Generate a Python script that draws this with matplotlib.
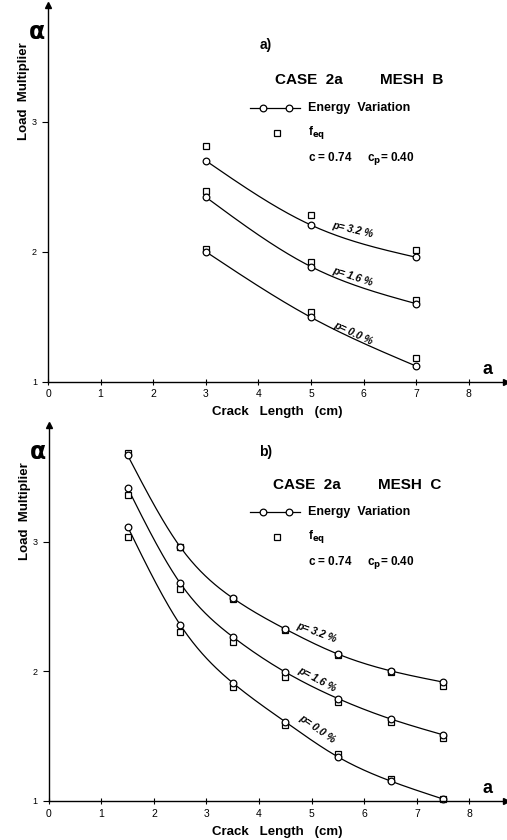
import matplotlib
matplotlib.use('Agg')
import matplotlib.pyplot as plt
import numpy as np

plt.rcParams['font.family'] = ['Liberation Sans', 'DejaVu Sans']

# ---- panel a) : MESH B ----
xa = [3, 5, 7]
a_ev_32 = [2.70, 2.205, 1.957]
a_eq_32 = [2.81, 2.28, 2.01]
a_ev_16 = [2.42, 1.885, 1.60]
a_eq_16 = [2.47, 1.92, 1.63]
a_ev_00 = [2.00, 1.495, 1.12]
a_eq_00 = [2.02, 1.54, 1.18]

# ---- panel b) : MESH C ----
xb = [1.5, 2.5, 3.5, 4.5, 5.5, 6.5, 7.5]
b_ev_32 = [3.667, 2.96, 2.565, 2.326, 2.133, 2.004, 1.917]
b_eq_32 = [3.685, 2.96, 2.56, 2.32, 2.125, 1.995, 1.89]
b_ev_16 = [3.415, 2.68, 2.266, 1.994, 1.79, 1.633, 1.51]
b_eq_16 = [3.36, 2.635, 2.23, 1.955, 1.767, 1.608, 1.484]
b_ev_00 = [3.116, 2.359, 1.911, 1.61, 1.34, 1.154, 1.015]
b_eq_00 = [3.036, 2.305, 1.88, 1.587, 1.365, 1.167, 1.015]

x_ticks = [0, 1, 2, 3, 4, 5, 6, 7, 8]
y_ticks = [1, 2, 3]
p_labels = ['p= 3.2 %', 'p= 1.6 %', 'p= 0.0 %']


def spline(x, y, n=200):
    # natural cubic spline through the points, only for drawing the curve
    x = np.asarray(x, float)
    y = np.asarray(y, float)
    k = len(x)
    h = np.diff(x)
    A = np.zeros((k, k))
    r = np.zeros(k)
    A[0, 0] = A[-1, -1] = 1
    for i in range(1, k - 1):
        A[i, i - 1] = h[i - 1]
        A[i, i] = 2 * (h[i - 1] + h[i])
        A[i, i + 1] = h[i]
        r[i] = 6 * ((y[i + 1] - y[i]) / h[i] - (y[i] - y[i - 1]) / h[i - 1])
    M = np.linalg.solve(A, r)
    xs = np.linspace(x[0], x[-1], n)
    j = np.clip(np.searchsorted(x, xs) - 1, 0, k - 2)
    t = xs - x[j]
    hj = h[j]
    ys = (M[j] * (x[j + 1] - xs) ** 3 / (6 * hj) + M[j + 1] * t ** 3 / (6 * hj)
          + (y[j] / hj - M[j] * hj / 6) * (x[j + 1] - xs)
          + (y[j + 1] / hj - M[j + 1] * hj / 6) * t)
    return xs, ys


def setup_axes(ax):
    ax.set_xlim(0, 8.7)
    ax.set_ylim(1, 3.9)
    for s in ['top', 'right']:
        ax.spines[s].set_visible(False)
    ax.spines['left'].set_linewidth(1.0)
    ax.spines['bottom'].set_linewidth(1.0)
    ax.plot(1, 0, '>k', ms=5, transform=ax.transAxes, clip_on=False)
    ax.plot(0, 1, '^k', ms=5, transform=ax.transAxes, clip_on=False)
    ax.set_xticks(x_ticks)
    ax.set_yticks(y_ticks)
    ax.tick_params(axis='x', direction='inout', length=5, width=0.8, labelsize=7.5, pad=3)
    ax.tick_params(axis='y', direction='out', length=4, width=0.8, labelsize=6.5, pad=4)
    ax.set_xlabel('Crack   Length   (cm)', fontsize=9.5, fontweight='bold', labelpad=5)
    ax.set_ylabel('Load  Multiplier', fontsize=9.5, fontweight='bold')
    ax.yaxis.set_label_coords(-0.039, 0.77)
    ax.text(-0.006, 0.928, '\u03b1', transform=ax.transAxes, fontsize=17,
            fontweight='bold', ha='right', va='center', family=['DejaVu Sans'])
    ax.text(0.96, 0.033, 'a', transform=ax.transAxes, fontsize=13,
            fontweight='bold', ha='center', va='center')


def draw_panel(ax, x, evs, eqs, tag, mesh, lab_pos, y0):
    setup_axes(ax)
    for ev, eq in zip(evs, eqs):
        xs, ys = spline(x, ev)
        ax.plot(xs, ys, color='black', lw=0.9)
        ax.plot(x, eq, 's', ms=4.8, mfc='white', mec='black', mew=0.9, clip_on=False)
        ax.plot(x, ev, 'o', ms=4.8, mfc='white', mec='black', mew=0.9, clip_on=False)
    for lab, (lx, ly, rot) in zip(p_labels, lab_pos):
        ax.text(lx, ly, lab, fontsize=7.5, fontstyle='italic', fontweight='bold',
                rotation=rot, ha='center', va='center')
    # header + legend in figure-pixel positions relative to panel
    fx = lambda px: px / 507
    fy = lambda py: 1 - (py + y0) / 840
    fig.text(fx(266), fy(tag[1]), tag[0], fontsize=10, fontweight='bold', ha='center', va='center')
    fig.text(fx(mesh[1]), fy(mesh[2]), 'CASE  2a', fontsize=11, fontweight='bold', va='center')
    fig.text(fx(mesh[3]), fy(mesh[2]), 'MESH  ' + mesh[0], fontsize=11, fontweight='bold', va='center')
    ly = mesh[4]
    fig.lines.append(plt.Line2D([fx(250), fx(300)], [fy(ly), fy(ly)], color='black', lw=0.9,
                                transform=fig.transFigure))
    fig.lines.append(plt.Line2D([fx(263), fx(289)], [fy(ly), fy(ly)], lw=0,
                                marker='o', ms=4.8, mfc='white', mec='black', mew=0.9,
                                transform=fig.transFigure))
    fig.text(fx(308), fy(ly), 'Energy  Variation', fontsize=9, fontweight='bold', va='center')
    fig.lines.append(plt.Line2D([fx(277)], [fy(ly + 25)], lw=0, marker='s', ms=4.8,
                                mfc='white', mec='black', mew=0.9, transform=fig.transFigure))
    fig.text(fx(308), fy(ly + 25), r'f$_{\mathbf{eq}}$', fontsize=8.5, fontweight='bold', va='center')
    fig.text(fx(308), fy(ly + 51), r'c = 0.74     c$_{\mathbf{p}}$= 0.40', fontsize=8.5,
             fontweight='bold', va='center')


fig = plt.figure(figsize=(5.07, 8.4), dpi=100)
ax1 = fig.add_axes([48 / 507, 1 - 381.7 / 840, 457.6 / 507, 377 / 840])
ax2 = fig.add_axes([48.7 / 507, 1 - 801 / 840, 457.6 / 507, 376 / 840])

draw_panel(ax1, xa, [a_ev_32, a_ev_16, a_ev_00], [a_eq_32, a_eq_16, a_eq_00],
           ('a)', 45), ('B', 275, 80, 380, 108),
           [(5.8, 2.17, -13), (5.8, 1.805, -18), (5.8, 1.375, -25)], 0)
draw_panel(ax2, xb, [b_ev_32, b_ev_16, b_ev_00], [b_eq_32, b_eq_16, b_eq_00],
           ('b)', 452 - 420), ('C', 273, 65, 378, 92),
           [(5.1, 2.30, -20), (5.1, 1.94, -28), (5.1, 1.56, -35)], 420)

fig.savefig('out.png', dpi=100)
